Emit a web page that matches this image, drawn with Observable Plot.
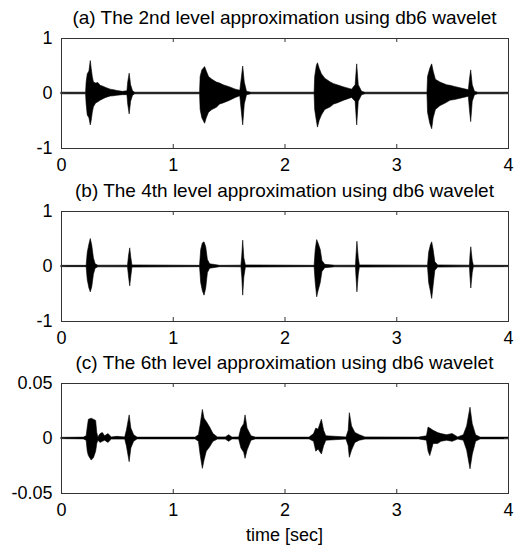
<!DOCTYPE html>
<html>
<head>
<meta charset="utf-8">
<script src="https://cdn.jsdelivr.net/npm/d3@7"></script>
<script src="https://cdn.jsdelivr.net/npm/@observablehq/plot@0.6"></script>
<style>
  html, body { margin: 0; padding: 0; background: #fff; }
  #chart { position: relative; width: 515px; height: 548px; font-family: "Liberation Sans", Arial, sans-serif; color: #000; }
  .panel { position: absolute; left: 0; }
  .title { position: absolute; left: 61px; width: 447px; text-align: center; font-size: 19px; line-height: 20px; white-space: nowrap; }
  .xlabel { position: absolute; left: 61px; width: 447px; text-align: center; font-size: 18px; line-height: 19px; }
  svg { overflow: visible; }
</style>
</head>
<body>
<div id="chart"></div>
<script>
// ---- texts and ticks ----
const titles = [
  "(a) The 2nd level approximation using db6 wavelet",
  "(b) The 4th level approximation using db6 wavelet",
  "(c) The 6th level approximation using db6 wavelet"
];
const xLabel = "time [sec]";
const xTicks = [0, 1, 2, 3, 4];
const yTicksAB = [-1, 0, 1];
const yTicksC = [-0.05, 0, 0.05];

// ---- envelope of signal (a): time, upper, lower ----
const tA  = [0, 0.22, 0.225, 0.235, 0.25, 0.262, 0.27, 0.28, 0.29, 0.31, 0.33, 0.35, 0.38, 0.4, 0.44, 0.47, 0.5, 0.55, 0.59, 0.597, 0.61, 0.623, 0.64, 0.66,
             1.24, 1.245, 1.26, 1.285, 1.3, 1.32, 1.35, 1.39, 1.42, 1.45, 1.51, 1.56, 1.6, 1.612, 1.626, 1.64, 1.66, 1.7,
             2.265, 2.27, 2.285, 2.295, 2.31, 2.33, 2.36, 2.41, 2.44, 2.47, 2.53, 2.6, 2.632, 2.646, 2.66, 2.69, 2.72,
             3.275, 3.28, 3.3, 3.317, 3.33, 3.35, 3.39, 3.45, 3.48, 3.52, 3.6, 3.645, 3.655, 3.666, 3.68, 3.7, 3.73, 4];
const hiA = [0.015, 0.015, 0.2, 0.35, 0.4, 0.59, 0.45, 0.3, 0.2, 0.18, 0.19, 0.14, 0.12, 0.1, 0.07, 0.06, 0.045, 0.03, 0.04, 0.2, 0.36, 0.15, 0.04, 0.015,
             0.015, 0.3, 0.42, 0.48, 0.4, 0.3, 0.25, 0.2, 0.18, 0.15, 0.11, 0.07, 0.05, 0.25, 0.49, 0.2, 0.03, 0.015,
             0.015, 0.3, 0.5, 0.55, 0.45, 0.35, 0.27, 0.2, 0.17, 0.15, 0.11, 0.07, 0.15, 0.53, 0.15, 0.03, 0.015,
             0.015, 0.3, 0.45, 0.53, 0.4, 0.25, 0.2, 0.15, 0.14, 0.12, 0.08, 0.06, 0.25, 0.42, 0.15, 0.03, 0.015, 0.015];
const loA = [-0.015, -0.015, -0.2, -0.4, -0.45, -0.58, -0.5, -0.35, -0.25, -0.18, -0.16, -0.13, -0.1, -0.08, -0.055, -0.05, -0.04, -0.03, -0.03, -0.2, -0.38, -0.15, -0.04, -0.015,
             -0.015, -0.3, -0.45, -0.55, -0.45, -0.35, -0.3, -0.26, -0.2, -0.18, -0.13, -0.08, -0.05, -0.3, -0.58, -0.2, -0.03, -0.015,
             -0.015, -0.3, -0.5, -0.62, -0.5, -0.4, -0.3, -0.25, -0.2, -0.18, -0.13, -0.08, -0.15, -0.58, -0.15, -0.03, -0.015,
             -0.015, -0.35, -0.55, -0.65, -0.45, -0.3, -0.23, -0.17, -0.13, -0.12, -0.08, -0.06, -0.3, -0.52, -0.15, -0.03, -0.015, -0.015];

// ---- envelope of signal (b) ----
const tB  = [0, 0.225, 0.235, 0.25, 0.262, 0.275, 0.29, 0.305, 0.33, 0.595, 0.605, 0.615, 0.625, 0.635,
             1.24, 1.25, 1.265, 1.28, 1.295, 1.31, 1.33, 1.4, 1.42, 1.61, 1.618, 1.626, 1.636, 1.65,
             2.265, 2.275, 2.288, 2.3, 2.32, 2.335, 2.36, 2.45, 2.635, 2.64, 2.648, 2.66, 2.67,
             3.28, 3.29, 3.305, 3.317, 3.33, 3.345, 3.37, 3.655, 3.66, 3.667, 3.68, 3.69, 4];
const hiB = [0.012, 0.012, 0.25, 0.4, 0.5, 0.38, 0.15, 0.04, 0.015, 0.015, 0.2, 0.33, 0.15, 0.02,
             0.012, 0.3, 0.42, 0.44, 0.35, 0.12, 0.04, 0.02, 0.012, 0.015, 0.2, 0.47, 0.15, 0.02,
             0.012, 0.3, 0.48, 0.42, 0.3, 0.1, 0.03, 0.015, 0.015, 0.2, 0.45, 0.15, 0.02,
             0.015, 0.25, 0.38, 0.44, 0.3, 0.08, 0.02, 0.015, 0.2, 0.35, 0.1, 0.015, 0.012];
const loB = [-0.012, -0.012, -0.25, -0.4, -0.47, -0.38, -0.15, -0.04, -0.015, -0.015, -0.2, -0.36, -0.18, -0.02,
             -0.012, -0.3, -0.45, -0.53, -0.4, -0.12, -0.04, -0.02, -0.012, -0.015, -0.2, -0.53, -0.2, -0.02,
             -0.012, -0.3, -0.56, -0.45, -0.3, -0.1, -0.03, -0.015, -0.015, -0.2, -0.47, -0.15, -0.02,
             -0.015, -0.3, -0.45, -0.59, -0.35, -0.08, -0.02, -0.015, -0.2, -0.4, -0.12, -0.015, -0.012];

// ---- envelope of signal (c) ----
const tC  = [0, 0.2, 0.225, 0.235, 0.245, 0.27, 0.29, 0.31, 0.32, 0.33, 0.35, 0.37, 0.39, 0.42, 0.45, 0.5, 0.57, 0.585, 0.61, 0.625, 0.65, 0.68,
             1.2, 1.23, 1.245, 1.265, 1.28, 1.3, 1.33, 1.36, 1.4, 1.47, 1.5, 1.53, 1.59, 1.61, 1.635, 1.647, 1.665, 1.7, 1.74,
             2.22, 2.26, 2.28, 2.3, 2.33, 2.35, 2.37, 2.55, 2.57, 2.58, 2.6, 2.63, 2.67, 2.72,
             3.2, 3.27, 3.285, 3.3, 3.33, 3.37, 3.4, 3.45, 3.5, 3.55, 3.6, 3.63, 3.66, 3.68, 3.71, 3.75, 4];
const hiC = [0.0006, 0.0008, 0.002, 0.01, 0.017, 0.018, 0.017, 0.016, 0.005, 0.001, 0.004, 0.005, 0.002, 0.004, 0.001, 0.0015, 0.001, 0.007, 0.021, 0.009, 0.003, 0.0008,
             0.0008, 0.003, 0.012, 0.026, 0.018, 0.015, 0.01, 0.004, 0.001, 0.001, 0.003, 0.0008, 0.001, 0.009, 0.013, 0.021, 0.009, 0.002, 0.0008,
             0.0008, 0.004, 0.009, 0.008, 0.017, 0.007, 0.002, 0.001, 0.007, 0.023, 0.011, 0.005, 0.003, 0.001,
             0.0008, 0.002, 0.01, 0.009, 0.007, 0.005, 0.004, 0.003, 0.004, 0.001, 0.003, 0.011, 0.028, 0.013, 0.003, 0.0008, 0.0008];
const loC = [-0.0006, -0.0008, -0.002, -0.012, -0.016, -0.02, -0.018, -0.012, -0.005, -0.002, -0.004, -0.003, -0.002, -0.004, -0.001, -0.001, -0.001, -0.007, -0.0215, -0.009, -0.003, -0.0008,
             -0.0008, -0.003, -0.015, -0.0276, -0.02, -0.012, -0.008, -0.003, -0.001, -0.001, -0.003, -0.0008, -0.001, -0.009, -0.013, -0.0185, -0.011, -0.002, -0.0008,
             -0.0008, -0.003, -0.012, -0.01, -0.0145, -0.007, -0.002, -0.001, -0.007, -0.0175, -0.011, -0.004, -0.002, -0.001,
             -0.0008, -0.002, -0.012, -0.016, -0.005, -0.005, -0.003, -0.002, -0.003, -0.001, -0.002, -0.011, -0.028, -0.015, -0.003, -0.0008, -0.0008];

const panels = [
  {title: titles[0], t: tA, hi: hiA, lo: loA, yTicks: yTicksAB, top: 0,   mTop: 38, height: 173, mBottom: 25},
  {title: titles[1], t: tB, hi: hiB, lo: loB, yTicks: yTicksAB, top: 173, mTop: 38, height: 173, mBottom: 25},
  {title: titles[2], t: tC, hi: hiC, lo: loC, yTicks: yTicksC,  top: 346, mTop: 37, height: 202, mBottom: 55}
];

const chart = document.getElementById("chart");
const FONT = "Liberation Sans, Arial, sans-serif";

panels.forEach((p) => {
  const rows = p.t.map((t, i) => ({t, hi: p.hi[i], lo: p.lo[i]}));
  const yDom = [p.yTicks[0], p.yTicks[p.yTicks.length - 1]];
  const xDom = [xTicks[0], xTicks[xTicks.length - 1]];
  const tickLenY = (yDom[1] - yDom[0]) * 4 / 110;
  const tickLenX = (xDom[1] - xDom[0]) * 4 / 447;
  const svg = Plot.plot({
    width: 515,
    height: p.height,
    marginLeft: 61,
    marginRight: 7,
    marginTop: p.mTop,
    marginBottom: p.mBottom,
    style: {fontFamily: FONT, fontSize: "18px", color: "#000", background: "transparent"},
    x: {domain: xDom, ticks: xTicks},
    y: {domain: yDom, ticks: p.yTicks},
    marks: [
      Plot.areaY(rows, {x: "t", y1: "lo", y2: "hi", fill: "#000", stroke: "#000", strokeWidth: 0.6}),
      // inward ticks on all four sides
      Plot.ruleX(xTicks, {x: d => d, y1: yDom[0], y2: yDom[0] + tickLenY, stroke: "#333"}),
      Plot.ruleX(xTicks, {x: d => d, y1: yDom[1], y2: yDom[1] - tickLenY, stroke: "#333"}),
      Plot.ruleY(p.yTicks, {y: d => d, x1: xDom[0], x2: xDom[0] + tickLenX, stroke: "#333"}),
      Plot.ruleY(p.yTicks, {y: d => d, x1: xDom[1], x2: xDom[1] - tickLenX, stroke: "#333"}),
      Plot.frame({stroke: "#333", strokeWidth: 1}),
      Plot.axisX({ticks: xTicks, tickSize: 0, tickPadding: 10, label: null, fontSize: 18, tickFormat: d => String(d)}),
      Plot.axisY({ticks: p.yTicks, tickSize: 0, tickPadding: 9, label: null, fontSize: 18, tickFormat: d => String(d)})
    ]
  });
  const wrap = document.createElement("div");
  wrap.className = "panel";
  wrap.style.top = p.top + "px";
  wrap.appendChild(svg);
  chart.appendChild(wrap);

  const tt = document.createElement("div");
  tt.className = "title";
  tt.textContent = p.title;
  tt.style.top = (p.top + p.mTop - 30) + "px";
  chart.appendChild(tt);
});

const xl = document.createElement("div");
xl.className = "xlabel";
xl.textContent = xLabel;
xl.style.top = "526px";
chart.appendChild(xl);
</script>
</body>
</html>
